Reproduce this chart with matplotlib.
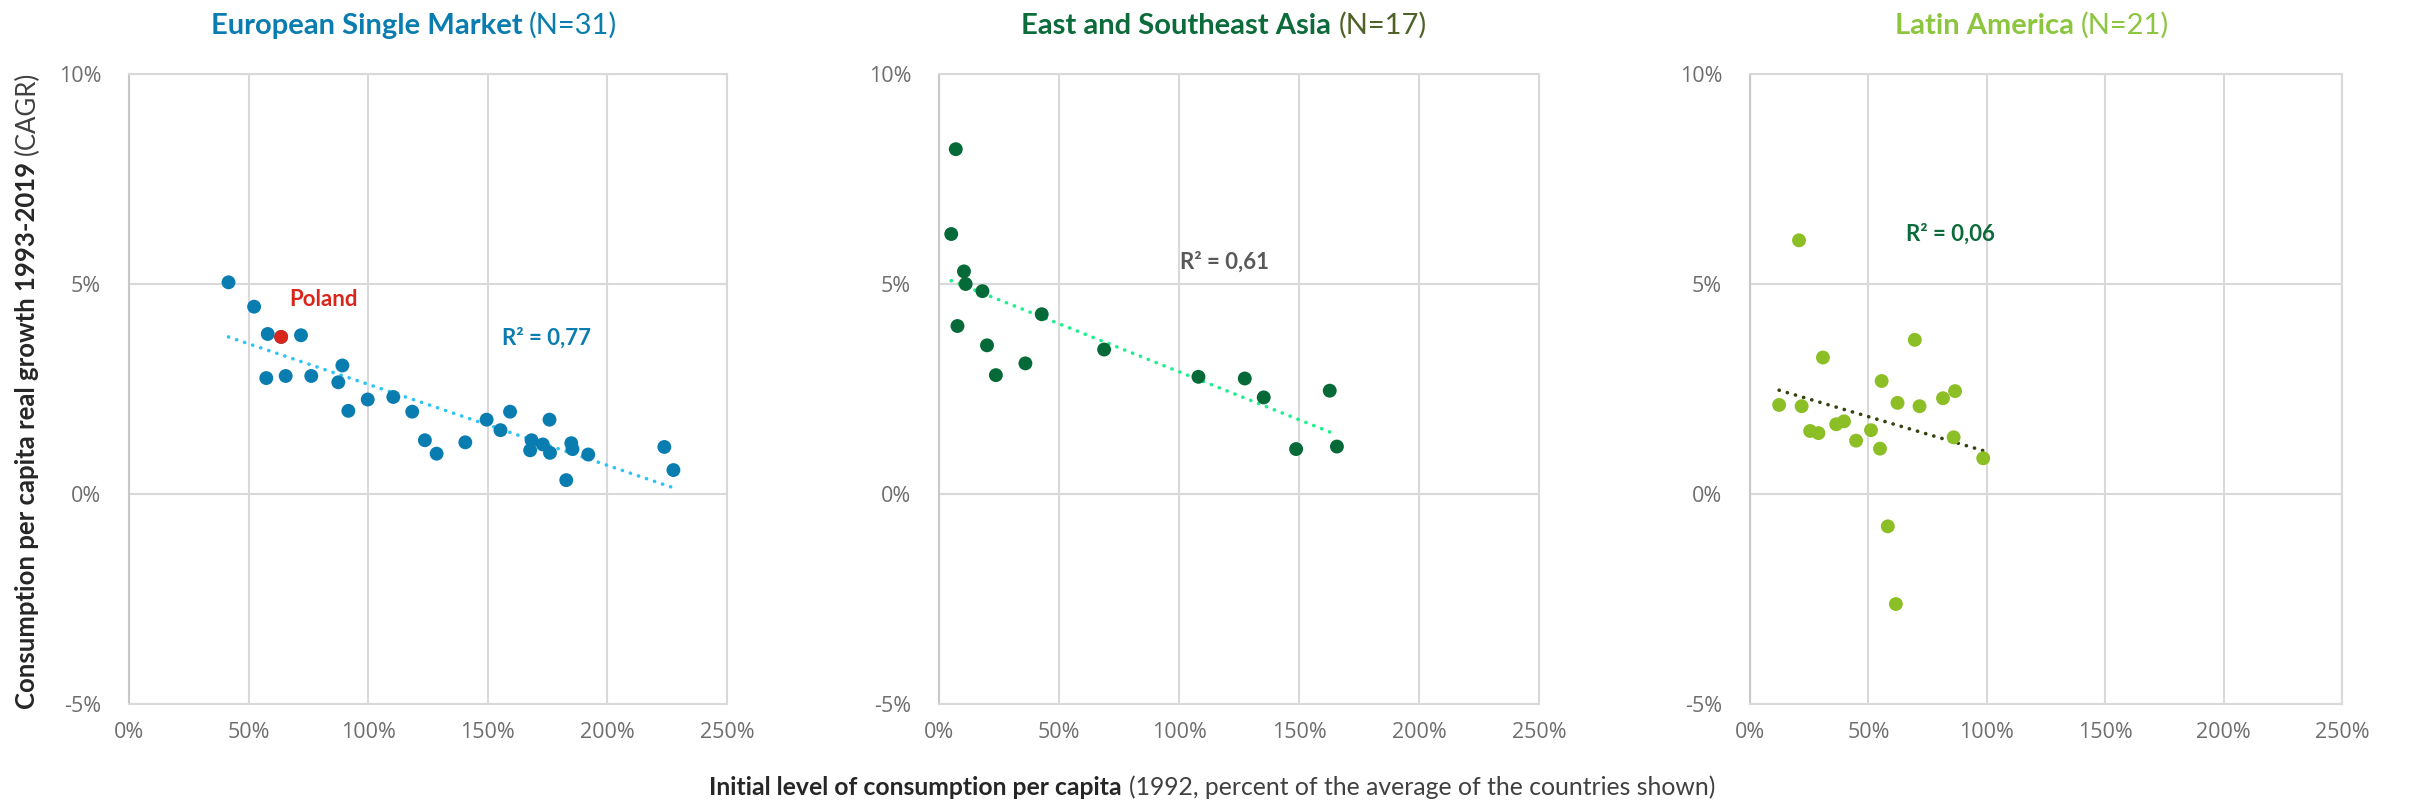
import numpy as np
import matplotlib
matplotlib.use("Agg")
import matplotlib.pyplot as plt

# initial consumption level (% of group average, 1992) and CAGR 1993-2019 (%)
esm_x = [41.6, 52.3, 58.0, 71.9, 57.4, 65.5, 76.2, 89.2, 87.5, 91.7, 99.8, 110.5,
         118.4, 123.7, 128.6, 140.6, 149.5, 155.3, 159.3, 168.3, 167.7, 173.0,
         175.8, 176.0, 184.9, 185.4, 182.8, 192.0, 223.8, 227.6]
esm_y = [5.04, 4.46, 3.81, 3.78, 2.76, 2.81, 2.81, 3.06, 2.66, 1.98, 2.25, 2.31,
         1.96, 1.28, 0.96, 1.23, 1.77, 1.52, 1.96, 1.28, 1.04, 1.18,
         1.77, 0.98, 1.21, 1.07, 0.33, 0.94, 1.12, 0.57]
poland_x = 63.6
poland_y = 3.74

asia_x = [7.0, 5.1, 10.4, 11.1, 18.1, 7.7, 42.8, 20.0, 23.7, 36.0, 68.8, 108.1,
          127.4, 135.3, 162.8, 148.8, 165.8]
asia_y = [8.21, 6.19, 5.30, 5.00, 4.83, 4.00, 4.28, 3.54, 2.83, 3.11, 3.44, 2.79,
          2.75, 2.30, 2.46, 1.07, 1.13]

latam_x = [20.7, 30.8, 69.6, 55.6, 12.3, 21.8, 62.3, 71.6, 81.5, 86.6, 25.4, 28.9,
           36.4, 39.7, 51.1, 44.8, 54.9, 86.0, 98.5, 58.2, 61.6]
latam_y = [6.04, 3.25, 3.67, 2.69, 2.12, 2.09, 2.17, 2.09, 2.28, 2.45, 1.50, 1.45,
           1.66, 1.73, 1.52, 1.27, 1.08, 1.35, 0.85, -0.77, -2.62]

x_ticks = [0, 50, 100, 150, 200, 250]
y_ticks = [-5, 0, 5, 10]

BLUE = "#0A7DB0"
DARK_GREEN = "#0B6B3A"
LIME = "#8CBF26"

fig = plt.figure(figsize=(24.09, 8.05), dpi=100)
W, H = 2409, 805


def make_axes(left_px, width_px):
    ax = fig.add_axes([left_px / W, 101 / H, width_px / W, 630 / H])
    ax.set_xlim(0, 250)
    ax.set_ylim(-5, 10)
    ax.set_xticks(x_ticks)
    ax.set_yticks(y_ticks)
    ax.set_xticklabels([f"{t}%" for t in x_ticks])
    ax.set_yticklabels([f"{t}%" for t in y_ticks])
    ax.grid(True, color="#D9D9D9", linewidth=1.5)
    ax.set_axisbelow(True)
    for s in ax.spines.values():
        s.set_color("#D9D9D9")
        s.set_linewidth(1.5)
    ax.spines["left"].set_color("#C8C8C8")
    ax.tick_params(length=0, labelsize=15.5, labelcolor="#6E6E6E")
    ax.tick_params(axis="y", pad=20)
    ax.tick_params(axis="x", pad=13)
    for lab in ax.get_xticklabels() + ax.get_yticklabels():
        lab.set_family("Open Sans")
    return ax


def trend(ax, xs, ys, color):
    xs = np.asarray(xs)
    ys = np.asarray(ys)
    k, b = np.polyfit(xs, ys, 1)
    xx = np.array([xs.min(), xs.max()])
    ax.plot(xx, k * xx + b, color=color, linewidth=2.6,
            linestyle=(0, (0.05, 2.3)), dash_capstyle="round", zorder=3)


def scatter(ax, xs, ys, color):
    ax.scatter(xs, ys, s=100, color=color, edgecolors="none", zorder=4)


ax1 = make_axes(129, 598)
ax2 = make_axes(939, 600)
ax3 = make_axes(1750, 592)

scatter(ax1, esm_x + [poland_x], esm_y + [poland_y], BLUE)
trend(ax1, esm_x + [poland_x], esm_y + [poland_y], "#2EC4F5")
ax1.scatter([poland_x], [poland_y], s=100, color="#D9261C", edgecolors="none", zorder=5)
ax1.text(81.5, 4.62, "Poland", color="#D9261C", fontsize=16, fontweight="bold",
         family="Lato", ha="center", va="center")
ax1.text(174.7, 3.71, "R² = 0,77", color=BLUE, fontsize=16, fontweight="bold",
         family="Lato", ha="center", va="center")

scatter(ax2, asia_x, asia_y, "#056A37")
trend(ax2, asia_x, asia_y, "#1CF08A")
ax2.text(119, 5.52, "R² = 0,61", color="#595959", fontsize=16, fontweight="bold",
         family="Lato", ha="center", va="center")

scatter(ax3, latam_x, latam_y, LIME)
trend(ax3, latam_x, latam_y, "#34420F")
ax3.text(84.5, 6.19, "R² = 0,06", color=DARK_GREEN, fontsize=16, fontweight="bold",
         family="Lato", ha="center", va="center")

renderer = fig.canvas.get_renderer()


def rich_row(cx, y, parts, size, gap=7):
    # parts drawn side by side, centred on cx (pixels), baseline at y (pixels)
    texts = []
    for s, w, c in parts:
        t = fig.text(0, y / H, s, fontsize=size, fontweight=w, color=c,
                     family="Lato", ha="left", va="baseline")
        texts.append(t)
    widths = [t.get_window_extent(renderer).width for t in texts]
    total = sum(widths) + gap * (len(texts) - 1)
    x = cx - total / 2
    for t, w in zip(texts, widths):
        t.set_x(x / W)
        x += w + gap


def rich_col(x, cy, parts, size, gap=7):
    # rotated version, stacked bottom to top, centred on cy (pixels)
    texts = []
    for s, w, c in parts:
        t = fig.text(x / W, 0, s, fontsize=size, fontweight=w, color=c,
                     family="Lato", rotation=90, ha="center", va="bottom")
        texts.append(t)
    heights = [t.get_window_extent(renderer).height for t in texts]
    total = sum(heights) + gap * (len(texts) - 1)
    y = cy - total / 2
    for t, h in zip(texts, heights):
        t.set_y(y / H)
        y += h + gap


rich_row(414, H - 34, [("European Single Market", "bold", BLUE),
                       ("(N=31)", "normal", BLUE)], 21)
rich_row(1224, H - 34, [("East and Southeast Asia", "bold", DARK_GREEN),
                        ("(N=17)", "normal", "#4F6228")], 21)
rich_row(2032, H - 34, [("Latin America", "bold", "#8CC63F"),
                        ("(N=21)", "normal", "#8CC63F")], 21)

rich_row(1212, 10, [("Initial level of consumption per capita", "bold", "#262626"),
                    ("(1992, percent of the average of the countries shown)", "normal", "#404040")],
         17.8)
rich_col(27, H - 390, [("Consumption per capita real growth 1993-2019", "bold", "#262626"),
                       ("(CAGR)", "normal", "#404040")], 18.5)

fig.savefig("out.png", dpi=100)
